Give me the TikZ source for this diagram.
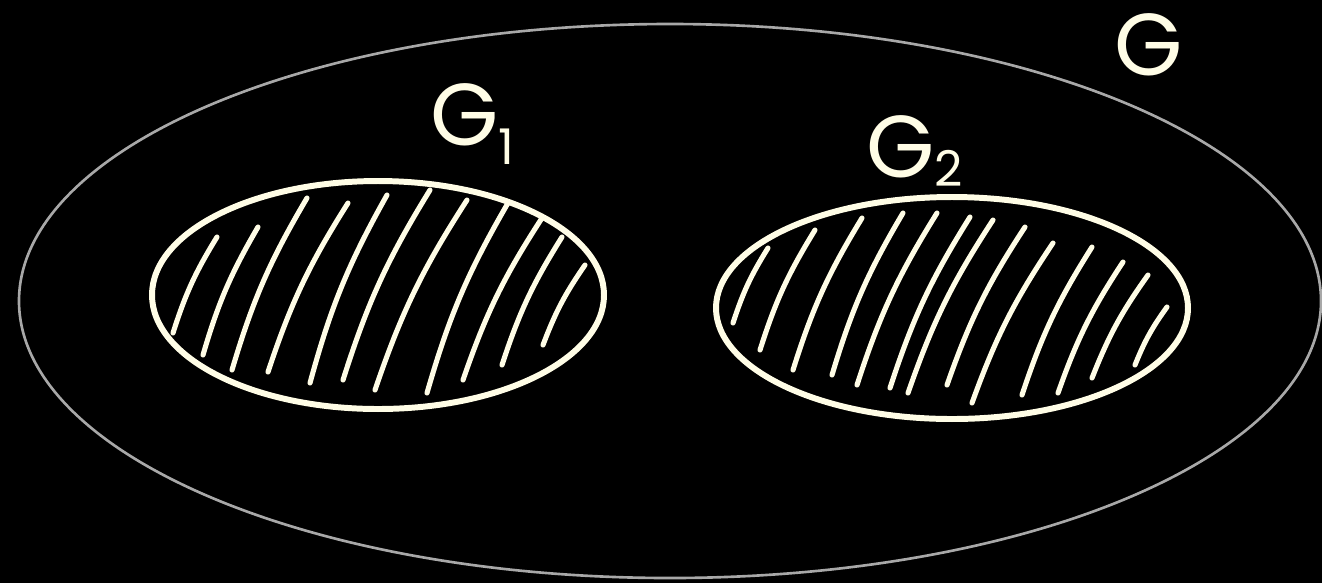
\documentclass[tikz,border=0pt]{standalone}
\usepackage{fontspec}
\newfontfamily\handfont{Poppins}
\definecolor{chalk}{HTML}{FFFDE6}
\definecolor{outline}{HTML}{A8A8A8}
\tikzset{
  hatch/.style={draw=chalk, line width=2.9pt, line cap=round, bend left=7},
  setring/.style={draw=chalk, line width=3.4pt},
  lbl/.style={text=chalk, inner sep=0pt, font=\handfont\fontsize{50}{50}\selectfont}
}
\begin{document}
\begin{tikzpicture}[x=0.02cm, y=-0.02cm]
\fill[black] (0,0) rectangle (1322,583);
\useasboundingbox (0,0) rectangle (1322,583);
% outer set G
\draw[outline, line width=1.5pt] (670,301) ellipse [x radius=651, y radius=277];
% G1
\draw[setring] (378,295) ellipse [x radius=226, y radius=114];
% G2
\draw[setring] (952,308) ellipse [x radius=236, y radius=111];
% hatching G1
\foreach \ax/\ay/\bx/\by [count=\i] in {173/333/217/237, 203/355/258/227, 232/370/307/198,
  268/372/348/203, 310/383/387/195, 343/380/430/190, 375/390/467/200, 427/393/508/203,
  463/380/542/218, 502/365/562/237, 543/345/585/265}{
  \coordinate (p\i) at (\ax,\ay);
  \coordinate (q\i) at (\bx,\by);
  \draw[hatch] (p\i) to (q\i);
}
% hatching G2
\foreach \ax/\ay/\bx/\by [count=\i] in {733/323/768/248, 760/350/815/230, 793/370/862/218,
  832/375/903/213, 857/385/937/213, 890/388/970/217, 908/393/993/220, 947/385/1025/227,
  972/403/1053/243, 1022/395/1092/247, 1058/393/1123/262, 1092/378/1148/275, 1135/365/1167/307}{
  \coordinate (r\i) at (\ax,\ay);
  \coordinate (s\i) at (\bx,\by);
  \draw[hatch] (r\i) to (s\i);
}
% labels
\node[lbl] (lG) at (1149,45) {G};
\node[lbl, anchor=west] (lG1) at (430,124) {G\raisebox{-0.4ex}{\fontsize{28}{28}\selectfont 1}};
\node[lbl, anchor=west] (lG2) at (866,151) {G\raisebox{-0.2ex}{\fontsize{28}{28}\selectfont 2}};
\end{tikzpicture}
\end{document}
